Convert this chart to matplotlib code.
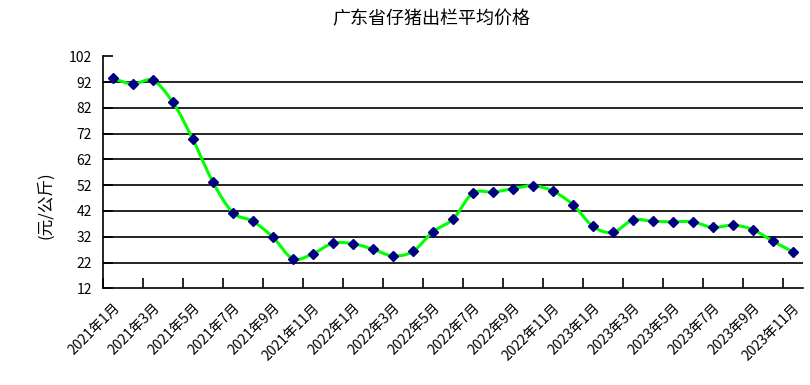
import numpy as np
import matplotlib
matplotlib.use("Agg")
import matplotlib.pyplot as plt

plt.rcParams['font.family'] = ['Noto Sans CJK SC', 'DejaVu Sans']

# -----------------------------
# data: monthly price, 2021-01 .. 2023-11
# -----------------------------
years = [2021] * 12 + [2022] * 12 + [2023] * 11
months = list(range(1, 13)) * 2 + list(range(1, 12))
prices = [93.4, 91.2, 92.6, 84.1, 69.8, 53.2, 41.4, 38.0, 31.9, 23.5, 25.4, 29.5,
          29.3, 27.2, 24.6, 26.3, 33.9, 38.8, 48.9, 49.3, 50.6, 51.8, 49.7, 44.5,
          36.1, 33.7, 38.5, 38.0, 37.8, 37.8, 35.6, 36.5, 34.8, 30.3, 26.2]
labels = [f"{y}年{m}月" for y, m in zip(years, months)]
y_ticks = list(range(12, 103, 10))


def smooth_curve(x, y, n=20):
    # catmull-rom style smoothing, similar to a spreadsheet "smoothed line"
    x = np.asarray(x, float)
    y = np.asarray(y, float)
    px = np.concatenate([[2 * x[0] - x[1]], x, [2 * x[-1] - x[-2]]])
    py = np.concatenate([[2 * y[0] - y[1]], y, [2 * y[-1] - y[-2]]])
    xs, ys = [], []
    t = np.linspace(0, 1, n, endpoint=False)
    for i in range(1, len(px) - 2):
        p0, p1, p2, p3 = [np.array([px[j], py[j]]) for j in range(i - 1, i + 3)]
        pts = 0.5 * ((2 * p1)[:, None] + (-p0 + p2)[:, None] * t
                     + (2 * p0 - 5 * p1 + 4 * p2 - p3)[:, None] * t ** 2
                     + (-p0 + 3 * p1 - 3 * p2 + p3)[:, None] * t ** 3)
        xs.extend(pts[0])
        ys.extend(pts[1])
    xs.append(x[-1])
    ys.append(y[-1])
    return np.array(xs), np.array(ys)


fig = plt.figure(figsize=(8.1, 3.85), dpi=100)
ax = fig.add_axes([0.127, 0.251, 0.864, 0.603])

x = np.arange(len(prices))
sx, sy = smooth_curve(x, prices)

# gridlines (none at top value)
for v in y_ticks[1:-1]:
    ax.axhline(v, color='black', lw=1.2, zorder=1)

ax.plot(sx, sy, color='#00ff00', lw=2.2, zorder=2)
ax.plot(x, prices, linestyle='none', marker='D', markersize=5,
        color='#000080', zorder=3)

ax.set_xlim(-0.5, len(prices) - 0.5)
ax.set_ylim(12, 102)

# tick marks between categories, labels on every 2nd category
ax.set_xticks(np.arange(-0.5, len(prices) - 1, 2))
ax.set_xticklabels([])
ax.tick_params(axis='x', which='major', direction='in', length=7, width=1.2)
ax.set_xticks(x[::2], minor=True)
ax.set_xticklabels(labels[::2], minor=True, rotation=45, ha='right', va='top',
                   rotation_mode='anchor', fontsize=10)
ax.tick_params(axis='x', which='minor', length=0, pad=9)

ax.set_yticks(y_ticks)
ax.set_yticklabels([str(v) for v in y_ticks], fontsize=10)
ax.tick_params(axis='y', direction='in', length=7, width=1.2, pad=8)

for s in ['top', 'right']:
    ax.spines[s].set_visible(False)
for s in ['left', 'bottom']:
    ax.spines[s].set_linewidth(1.2)

ax.set_ylabel("(元/公斤)", fontsize=12, fontweight='medium', labelpad=10)
ax.yaxis.label.set_y(0.36)
fig.text(431 / 810, 1 - 19 / 385, "广东省仔猪出栏平均价格", ha='center', va='center',
         fontsize=13)

fig.savefig("out.png", dpi=100)
